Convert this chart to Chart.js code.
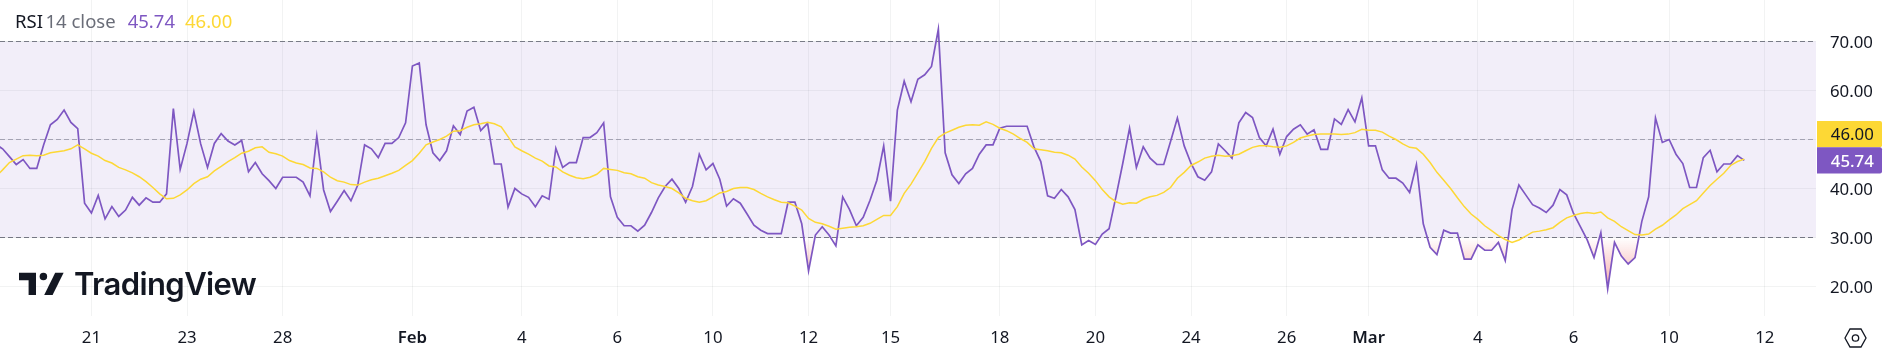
<!DOCTYPE html>
<html>
<head>
<meta charset="utf-8">
<style>html,body{margin:0;padding:0;background:#fff;overflow:hidden}canvas{display:block}</style>
<script src="https://cdn.jsdelivr.net/npm/chart.js@4"></script>
</head>
<body>
<canvas id="c" width="1886" height="353"></canvas>
<script>
const rsiValues = [
49.0,48.1,46.5,44.9,45.9,44.1,44.1,48.9,53.0,54.1,56.0,53.5,52.2,37.0,35.0,38.6,33.8,36.3,34.3,35.6,
38.2,36.6,38.1,37.2,37.2,38.9,56.3,43.9,49.2,55.7,49.1,44.3,49.2,51.2,49.7,48.9,49.8,43.4,45.3,43.0,
41.6,40.0,42.3,42.3,42.3,41.3,38.5,50.7,39.7,35.3,37.4,39.6,37.5,40.7,48.9,48.1,46.3,49.2,49.2,50.4,
53.4,65.0,65.6,53.0,47.3,45.7,47.7,52.8,51.0,55.8,56.6,51.8,53.3,45.0,45.0,36.2,40.0,38.9,38.2,36.3,
38.5,37.8,48.2,44.3,45.3,45.3,50.4,50.4,51.4,53.4,38.3,34.1,32.4,32.4,31.3,32.5,35.1,38.1,40.4,41.9,
40.0,37.2,40.4,47.0,43.8,45.1,41.9,36.4,37.9,37.0,34.8,32.5,31.5,30.8,30.8,30.8,37.2,37.2,32.8,23.2,
30.5,32.2,30.5,28.3,38.3,35.7,32.4,34.1,37.6,41.7,48.7,37.4,56.0,61.9,57.7,62.3,63.2,64.9,72.5,47.3,
42.8,41.0,43.0,44.1,47.0,48.9,48.9,52.3,52.7,52.7,52.7,52.7,48.5,45.5,38.5,38.0,39.8,38.3,35.7,28.5,
29.4,28.6,30.7,31.8,38.3,45.1,52.3,44.3,48.5,46.2,44.9,44.9,49.6,54.4,48.7,45.1,42.4,41.7,43.4,49.1,
47.7,46.2,53.4,55.5,54.5,50.4,48.7,52.1,47.0,50.6,52.1,53.0,51.1,52.0,48.0,48.0,54.2,53.1,56.1,53.6,
58.5,48.7,48.7,43.8,42.1,42.1,41.1,39.2,44.9,32.8,28.0,26.5,31.5,30.9,30.9,25.6,25.6,28.5,27.4,27.4,
29.0,25.3,35.7,40.7,38.7,36.7,36.0,35.1,36.6,39.8,38.7,34.9,32.2,29.5,25.9,31.0,19.5,29.0,26.2,24.6,
25.9,33.3,38.3,54.4,49.4,50.0,47.0,45.1,40.2,40.2,46.3,47.8,43.4,45.0,45.0,46.7,45.74
];
const maValues = [
42.4,43.8,45.3,46.0,46.7,46.8,46.7,46.8,47.3,47.5,47.7,48.1,48.9,48.1,47.2,46.6,45.7,45.2,44.3,43.8,
43.2,42.4,41.4,40.2,38.9,37.9,38.0,38.7,39.7,41.0,41.9,42.4,43.6,44.5,45.5,46.3,47.2,47.6,48.3,48.5,
47.4,47.1,46.6,45.7,45.2,44.9,44.2,44.1,43.4,42.3,41.6,41.3,40.8,40.7,41.3,41.8,42.1,42.6,43.1,43.7,
44.7,45.7,47.2,48.9,49.5,50.0,50.7,51.7,51.8,52.5,53.0,53.2,53.5,53.2,52.6,50.6,48.5,47.7,47.0,46.2,
45.6,44.6,44.4,43.4,42.7,42.2,42.0,42.3,42.9,44.1,43.9,43.7,43.2,43.0,42.4,42.1,41.2,40.7,40.4,40.0,
39.1,38.0,37.5,37.2,37.5,38.3,39.1,39.4,40.0,40.2,40.2,39.8,39.0,38.3,37.7,37.2,37.1,36.4,35.6,33.9,
33.1,32.8,32.3,31.7,31.9,32.1,32.2,32.4,32.9,33.7,34.5,34.5,36.3,39.0,40.9,43.2,45.5,48.2,50.4,51.3,
51.9,52.5,52.9,53.0,52.9,53.6,53.1,52.3,51.8,51.1,50.2,49.4,48.1,47.9,47.7,47.4,47.3,46.8,46.0,44.4,
43.1,41.6,39.8,38.3,37.3,36.8,37.1,37.0,37.8,38.3,38.6,39.2,40.2,42.1,43.3,44.7,45.4,46.2,46.6,46.8,
46.6,46.7,47.0,47.7,48.4,48.7,48.7,48.5,48.4,48.7,49.4,50.3,50.7,51.0,51.1,51.1,51.1,51.0,51.1,51.4,
52.1,51.9,51.9,51.5,50.7,50.0,49.1,48.4,48.2,47.0,45.3,43.3,41.7,40.0,38.1,36.3,34.8,33.7,32.4,31.4,
30.4,29.6,29.0,29.5,30.3,31.1,31.3,31.6,32.0,33.1,34.0,34.5,34.9,35.1,34.9,35.2,34.0,33.3,32.2,31.4,
30.6,30.5,30.7,31.7,32.5,33.6,34.6,35.9,36.7,37.5,39.1,40.6,41.9,43.1,44.7,45.5,46.00
];
const tickBars = [14,28,42,61,77,91,105,119,131,147,161,175,189,201,217,231,245,259];
const tickLabels = ['21','23','28','Feb','4','6','10','12','15','18','20','24','26','Mar','4','6','10','12'];
const boldLabels = ['Feb','Mar'];
const yTicks = [20,30,40,50,60,70];
const bandLevels = [70,50,30];
const barRange = [0.618,266.5];
const legendName = ['RSI','14 close'];
const lastRsi = '45.74';
const lastMa = '46.00';

const PURPLE='#7E57C2', YELLOW='#FDD835', INK='#131722';
const FONT='"Noto Sans", sans-serif';
const xy = arr => arr.map((v,i)=>({x:i,y:v}));
const flat = v => barRange.map(x=>({x,y:v}));

function verticalGradient(c,from,to,c0,c1){
  const y=c.chart.scales.y; if(!y) return c1;
  const p0=y.getPixelForValue(from), p1=y.getPixelForValue(to);
  if(!isFinite(p0)||!isFinite(p1)) return c1;
  const g=c.chart.ctx.createLinearGradient(0,p0,0,p1);
  g.addColorStop(0,c0); g.addColorStop(1,c1); return g;
}

const decor = {
  id:'decor',
  beforeDraw(chart){
    chart.scales.y.getLabelItems(chart.chartArea).forEach(i=>{i.textOffset+=1.6;});
  },
  afterDraw(chart){
    const {ctx,scales:{y}}=chart;
    ctx.save();
    // legend
    ctx.font='18.5px '+FONT; ctx.textBaseline='middle'; ctx.textAlign='left';
    const ly=22.5;
    [[legendName[0],INK,15],[legendName[1],'#6A6D78',45.5],[lastRsi,PURPLE,127.7],[lastMa,YELLOW,185]].forEach(([t,col,x])=>{
      ctx.fillStyle=col; ctx.fillText(t,x,ly);
    });
    // last value tags
    const cy=y.getPixelForValue(parseFloat(lastRsi)), h=26.3;
    const tag=(top,bg,fg,t,w)=>{
      ctx.fillStyle=bg; ctx.beginPath(); ctx.roundRect(1817,top,65,h,[0,2,2,0]); ctx.fill();
      ctx.fillStyle=fg; ctx.textAlign='center'; ctx.font=w+' 16.8px '+FONT;
      ctx.fillText(t,1852.3,top+h/2+1.6);
    };
    tag(cy-h*1.5,YELLOW,INK,lastMa,400);
    tag(cy-h/2,PURPLE,'#fff',lastRsi,500);
    // logo
    ctx.fillStyle=INK;
    ctx.beginPath();
    ctx.moveTo(19,272.7);ctx.lineTo(36,272.7);ctx.lineTo(36,295);ctx.lineTo(28.6,295);ctx.lineTo(28.6,280.2);ctx.lineTo(19,280.2);ctx.closePath();ctx.fill();
    ctx.beginPath();ctx.arc(43.4,276.4,3.75,0,Math.PI*2);ctx.fill();
    ctx.beginPath();ctx.moveTo(55.2,272.7);ctx.lineTo(63.6,272.7);ctx.lineTo(52.6,295);ctx.lineTo(44.2,295);ctx.closePath();ctx.fill();
    ctx.font='600 31px Inter, sans-serif'; ctx.textAlign='left'; ctx.letterSpacing='-0.6px';
    ctx.fillText('TradingView',74,285.5);
    ctx.letterSpacing='0px';
    // settings icon
    ctx.strokeStyle=INK; ctx.lineWidth=1.3;
    ctx.beginPath();
    [[1845,338],[1850,329],[1861,329],[1866,338],[1861,347],[1850,347]].forEach((p,i)=>i?ctx.lineTo(p[0],p[1]):ctx.moveTo(p[0],p[1]));
    ctx.closePath();ctx.stroke();
    ctx.beginPath();ctx.arc(1855.5,338,3.2,0,Math.PI*2);ctx.stroke();
    ctx.restore();
  }
};

new Chart(document.getElementById('c'),{
  type:'line',
  data:{datasets:[
    {label:'RSI',data:xy(rsiValues),borderColor:PURPLE,borderWidth:1.7,pointRadius:0,tension:0,fill:false,order:1},
    {label:'RSI-based MA',data:xy(maValues),borderColor:YELLOW,borderWidth:1.5,pointRadius:0,tension:0,fill:false,order:0},
    {label:'Oversold zone',data:xy(rsiValues),borderWidth:0,borderColor:'transparent',pointRadius:0,order:3,
     backgroundColor:c=>verticalGradient(c,30,19.5,'rgba(239,83,80,0)','rgba(239,83,80,0.5)'),
     fill:{target:{value:30},above:'rgba(0,0,0,0)'}},
    {label:'Overbought zone',data:xy(rsiValues),borderWidth:0,borderColor:'transparent',pointRadius:0,order:3,
     backgroundColor:'rgba(0,0,0,0)',
     fill:{target:{value:70},above:'rgba(76,175,80,0.14)',below:'rgba(0,0,0,0)'}},
    {label:'Upper band',data:flat(bandLevels[0]),borderColor:'rgba(120,123,134,1)',borderWidth:1,borderDash:[5,3],pointRadius:0,order:2,
     fill:{target:{value:bandLevels[2]},above:'rgba(126,87,194,0.1)'}},
    {label:'Middle band',data:flat(bandLevels[1]),borderColor:'rgba(120,123,134,0.6)',borderWidth:1,borderDash:[5,3],pointRadius:0,order:2,fill:false},
    {label:'Lower band',data:flat(bandLevels[2]),borderColor:'rgba(120,123,134,1)',borderWidth:1,borderDash:[5,3],pointRadius:0,order:2,fill:false}
  ]},
  plugins:[decor],
  options:{
    responsive:false,animation:false,
    layout:{padding:{left:0,right:0,top:0,bottom:0}},
    plugins:{legend:{display:false},tooltip:{enabled:false},title:{display:false}},
    scales:{
      x:{type:'linear',min:barRange[0],max:barRange[1],
        afterBuildTicks(s){s.ticks=tickBars.map(v=>({value:v}));},
        afterFit(s){s.height=37;s.paddingLeft=0;s.paddingRight=0;},
        border:{display:false},
        grid:{color:'rgba(42,46,57,0.06)',lineWidth:1,drawTicks:false},
        ticks:{autoSkip:false,maxRotation:0,color:INK,padding:12.5,
          font:c=>{const t=c.tick?tickLabels[tickBars.indexOf(c.tick.value)]:'';return {family:FONT,size:16.8,weight:boldLabels.includes(t)?'600':'400'};},
          callback:v=>tickLabels[tickBars.indexOf(v)]}
      },
      y:{type:'linear',position:'right',min:13.98,max:78.47,
        afterBuildTicks(s){s.ticks=yTicks.map(v=>({value:v}));},
        afterFit(s){s.width=70;s.paddingTop=0;s.paddingBottom=0;},
        border:{display:false},
        grid:{color:'rgba(42,46,57,0.06)',lineWidth:1,drawTicks:false},
        ticks:{color:INK,padding:14,font:{family:FONT,size:16.8},callback:v=>v.toFixed(2)}
      }
    }
  }
});
</script>
</body>
</html>
